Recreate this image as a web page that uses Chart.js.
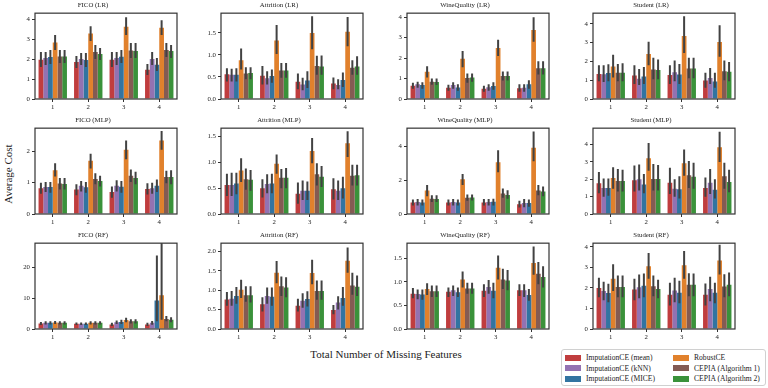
<!DOCTYPE html>
<html>
<head>
<meta charset="utf-8">
<script src="https://cdn.jsdelivr.net/npm/chart.js@4/dist/chart.umd.min.js"></script>
<style>
  body { margin: 0; background: #fff; }
  #fig { position: relative; width: 768px; height: 388px; overflow: hidden; font-family: "Liberation Serif", serif; color: #222; }
  #fig canvas { position: absolute; }
  .ylab { position: absolute; left: -27px; top: 168px; width: 70px; text-align: center; font-size: 11px; transform: rotate(-90deg); }
  .xlab { position: absolute; left: 266px; top: 348px; width: 240px; text-align: center; font-size: 11px; }
  #legend { position: absolute; left: 561px; top: 349px; width: 203px; height: 35px; border: 1px solid #d0d0d0; border-radius: 3px; font-size: 7.6px; }
  .item { position: absolute; height: 10px; line-height: 10px; white-space: nowrap; }
  .sw { display: inline-block; width: 16px; height: 6px; margin-right: 5px; vertical-align: -0.5px; }
</style>
</head>
<body>
<div id="fig">
  <div class="ylab">Average Cost</div>
  <div class="xlab">Total Number of Missing Features</div>
  <div id="legend"></div>
</div>
<script>
// categories and series
const missing = ['1', '2', '3', '4'];
const methods = ['ImputationCE (mean)', 'ImputationCE (kNN)', 'ImputationCE (MICE)', 'RobustCE', 'CEPIA (Algorithm 1)', 'CEPIA (Algorithm 2)'];
const colors = ['#c03d3e', '#9372b2', '#3274a1', '#e1812c', '#845b53', '#3a923a'];

// mean cost per method (rows) and number of missing features (cols), plus CI low/high
const ficoLR = [[1.97,1.85,1.97,1.47],[2.05,2.00,2.05,2.00],[2.10,1.95,2.12,1.72],[2.83,3.28,3.62,3.57],[2.13,2.35,2.43,2.45],[2.13,2.25,2.40,2.40]];
const ficoLR_lo = [[1.60,1.55,1.60,1.20],[1.70,1.70,1.70,1.70],[1.75,1.60,1.80,1.40],[2.45,2.90,3.20,3.20],[1.80,2.00,2.05,2.10],[1.80,1.95,2.05,2.05]];
const ficoLR_hi = [[2.35,2.15,2.35,1.75],[2.35,2.30,2.35,2.35],[2.45,2.30,2.45,2.05],[3.20,3.65,4.10,3.95],[2.45,2.70,2.80,2.80],[2.45,2.55,2.80,2.70]];

const attrLR = [[.56,.53,.39,.35],[.55,.47,.33,.32],[.55,.52,.42,.43],[.88,1.33,1.50,1.53],[.58,.65,.75,.71],[.59,.65,.74,.74]];
const attrLR_lo = [[.40,.33,.22,.22],[.40,.33,.20,.22],[.40,.37,.25,.27],[.67,1.02,1.13,1.20],[.45,.48,.55,.55],[.45,.48,.55,.55]];
const attrLR_hi = [[.70,.75,.58,.49],[.69,.63,.48,.45],[.70,.67,.63,.60],[1.15,1.68,1.88,1.86],[.72,.82,.98,.88],[.72,.82,.99,.97]];

const wineLR = [[.65,.55,.50,.52],[.72,.68,.58,.55],[.68,.56,.63,.72],[1.33,1.97,2.50,3.37],[.85,1.03,1.12,1.50],[.83,1.05,1.12,1.50]];
const wineLR_lo = [[.50,.40,.35,.35],[.55,.50,.40,.35],[.50,.40,.45,.50],[1.05,1.55,2.10,2.80],[.70,.80,.90,1.20],[.68,.85,.90,1.20]];
const wineLR_hi = [[.80,.70,.65,.72],[.85,.82,.72,.72],[.82,.72,.82,.92],[1.60,2.35,2.90,4.00],[1.00,1.25,1.35,1.85],[1.00,1.25,1.35,1.85]];

const studLR = [[1.33,1.25,1.28,.98],[1.32,1.08,1.43,1.12],[1.38,1.20,1.30,.93],[1.73,2.40,3.35,3.03],[1.40,1.57,1.63,1.48],[1.40,1.55,1.62,1.45]];
const studLR_lo = [[.95,.80,.80,.60],[.90,.75,.95,.80],[.95,.80,.80,.60],[1.15,1.80,2.45,2.25],[.95,1.05,1.10,1.00],[.95,1.05,1.10,.95]];
const studLR_hi = [[1.80,1.80,1.80,1.40],[1.80,1.60,2.05,1.65],[1.85,1.70,1.87,1.40],[2.35,3.05,4.40,3.93],[1.87,2.20,2.20,2.05],[1.90,2.10,2.20,1.97]];

const ficoMLP = [[.82,.78,.70,.80],[.86,.90,.90,.82],[.86,.85,.87,.90],[1.40,1.70,2.05,2.35],[.97,1.12,1.22,1.18],[.96,1.05,1.15,1.18]];
const ficoMLP_lo = [[.65,.60,.52,.62],[.70,.72,.72,.65],[.68,.68,.68,.70],[1.20,1.45,1.75,2.05],[.78,.95,1.02,.98],[.78,.88,.95,.95]];
const ficoMLP_hi = [[1.00,.95,.88,.98],[1.02,1.05,1.08,1.00],[1.02,1.02,1.05,1.10],[1.62,1.92,2.35,2.65],[1.15,1.30,1.42,1.38],[1.15,1.22,1.35,1.40]];

const attrMLP = [[.56,.50,.39,.48],[.56,.58,.45,.45],[.59,.59,.45,.50],[.84,.97,1.22,1.37],[.67,.70,.77,.74],[.66,.70,.72,.75]];
const attrMLP_lo = [[.35,.32,.20,.28],[.35,.40,.27,.27],[.38,.40,.27,.30],[.62,.78,.98,1.10],[.47,.50,.55,.55],[.45,.50,.52,.55]];
const attrMLP_hi = [[.78,.67,.61,.69],[.80,.77,.65,.65],[.80,.78,.63,.72],[1.08,1.15,1.47,1.60],[.88,.87,.98,.95],[.85,.89,.93,.95]];

const wineMLP = [[.67,.67,.67,.57],[.70,.70,.70,.65],[.68,.68,.72,.65],[1.38,2.05,3.05,3.90],[.90,.95,1.20,1.38],[.88,.97,1.12,1.33]];
const wineMLP_lo = [[.50,.50,.50,.38],[.50,.50,.50,.40],[.50,.50,.50,.42],[1.05,1.70,2.45,3.10],[.70,.78,.95,1.10],[.70,.80,.90,1.05]];
const wineMLP_hi = [[.85,.85,.88,.78],[.88,.88,.88,.88],[.85,.85,.90,.85],[1.70,2.35,3.75,4.85],[1.10,1.15,1.50,1.70],[1.10,1.15,1.40,1.62]];

const studMLP = [[1.78,1.95,1.80,1.50],[1.50,2.00,1.45,1.80],[1.50,1.70,1.43,1.40],[2.08,3.22,2.93,3.85],[1.90,2.02,2.23,2.18],[1.90,2.02,2.15,1.85]];
const studMLP_lo = [[1.20,1.30,1.15,1.00],[1.00,1.35,1.00,1.15],[1.05,1.20,.90,.90],[1.45,2.50,2.20,3.00],[1.30,1.35,1.50,1.45],[1.30,1.35,1.45,1.25]];
const studMLP_hi = [[2.42,2.80,2.67,2.10],[2.05,2.85,2.00,2.60],[2.05,2.30,2.17,2.00],[2.70,4.10,3.72,4.75],[2.60,2.88,3.05,2.95],[2.55,2.82,2.95,2.55]];

const ficoRF = [[1.8,1.7,1.5,1.5],[2.0,1.7,2.2,2.0],[2.0,1.7,2.3,9.3],[2.1,2.0,2.9,11.0],[2.0,2.0,2.5,3.3],[2.0,2.0,2.5,3.0]];
const ficoRF_lo = [[1.3,1.3,1.0,1.0],[1.5,1.3,1.6,1.4],[1.5,1.3,1.6,2.5],[1.6,1.5,2.2,3.0],[1.5,1.5,1.8,2.5],[1.5,1.5,1.8,2.2]];
const ficoRF_hi = [[2.3,2.1,2.0,2.0],[2.5,2.1,2.8,2.6],[2.5,2.1,3.0,24.0],[2.6,2.5,3.7,30.0],[2.5,2.5,3.2,4.2],[2.5,2.5,3.2,3.8]];

const attrRF = [[.76,.64,.60,.49],[.78,.85,.73,.68],[.85,.83,.77,.80],[1.01,1.45,1.44,1.76],[.87,1.10,.98,1.12],[.87,1.07,.98,1.09]];
const attrRF_lo = [[.60,.45,.45,.38],[.60,.65,.55,.50],[.65,.60,.58,.60],[.80,1.18,1.15,1.45],[.70,.85,.75,.88],[.68,.82,.75,.85]];
const attrRF_hi = [[.95,.82,.78,.62],[.98,1.07,.92,.84],[1.08,1.07,.97,1.08],[1.27,1.75,1.78,2.10],[1.10,1.35,1.25,1.45],[1.10,1.33,1.25,1.38]];

const wineRF = [[.75,.79,.81,.82],[.74,.82,.89,.82],[.73,.78,.81,.72],[.85,1.05,1.30,1.40],[.80,.86,1.05,1.17],[.80,.86,1.03,1.10]];
const wineRF_lo = [[.65,.68,.68,.70],[.63,.70,.75,.68],[.62,.68,.65,.60],[.72,.88,1.05,1.15],[.68,.75,.85,.95],[.68,.75,.82,.88]];
const wineRF_hi = [[.87,.88,.95,.95],[.84,.92,1.04,.95],[.84,.88,.98,.85],[.97,1.22,1.56,1.75],[.92,.98,1.28,1.42],[.92,.98,1.25,1.33]];

const studRF = [[2.00,1.92,1.67,1.67],[1.85,2.03,1.87,1.95],[1.75,2.10,1.77,1.77],[2.45,3.05,3.10,3.33],[2.05,2.08,2.15,2.07],[2.05,1.95,2.15,2.15]];
const studRF_lo = [[1.55,1.40,1.15,1.15],[1.40,1.50,1.30,1.35],[1.30,1.55,1.25,1.25],[1.85,2.45,2.45,2.65],[1.55,1.60,1.60,1.55],[1.55,1.50,1.60,1.60]];
const studRF_hi = [[2.50,2.45,2.25,2.22],[2.30,2.65,2.50,2.55],[2.20,2.70,2.35,2.25],[3.15,3.70,3.80,4.10],[2.60,2.60,2.72,2.67],[2.60,2.40,2.70,2.75]];

// panel titles, y ranges and tick labels (row by row)
const titles = ['FICO (LR)', 'Attrition (LR)', 'WineQuality (LR)', 'Student (LR)',
                'FICO (MLP)', 'Attrition (MLP)', 'WineQuality (MLP)', 'Student (MLP)',
                'FICO (RF)', 'Attrition (RF)', 'WineQuality (RF)', 'Student (RF)'];
const yMax = [4.3, 1.95, 4.2, 4.57, 2.74, 1.66, 5.05, 4.95, 28, 2.21, 1.82, 4.18];
const yTicks = [[0,1,2,3,4], [0,0.5,1,1.5], [0,1,2,3,4], [0,1,2,3,4],
                [0,1,2], [0,0.5,1,1.5], [0,2,4], [0,1,2,3,4],
                [0,10,20], [0,0.5,1,1.5,2], [0,0.5,1,1.5], [0,1,2,3,4]];
const decimals = [false, true, false, false, false, true, false, false, false, true, true, false];
const means = [ficoLR, attrLR, wineLR, studLR, ficoMLP, attrMLP, wineMLP, studMLP, ficoRF, attrRF, wineRF, studRF];
const lows = [ficoLR_lo, attrLR_lo, wineLR_lo, studLR_lo, ficoMLP_lo, attrMLP_lo, wineMLP_lo, studMLP_lo, ficoRF_lo, attrRF_lo, wineRF_lo, studRF_lo];
const highs = [ficoLR_hi, attrLR_hi, wineLR_hi, studLR_hi, ficoMLP_hi, attrMLP_hi, wineMLP_hi, studMLP_hi, ficoRF_hi, attrRF_hi, wineRF_hi, studRF_hi];

// plot box positions
const colLeft = [35, 221, 407, 593];
const rowTop = [13, 128, 243];
const plotW = 142, plotH = 86;
const padL = 26, padT = 14, padB = 16, padR = 2;

Chart.defaults.font.family = '"Liberation Serif", serif';
Chart.defaults.color = '#222';

// draws the CI line for each bar, using the y scale
const errorBars = {
  id: 'errorBars',
  afterDatasetsDraw(chart) {
    const { ctx, chartArea, scales } = chart;
    ctx.save();
    ctx.beginPath();
    ctx.rect(chartArea.left, chartArea.top, chartArea.width, chartArea.height);
    ctx.clip();
    ctx.strokeStyle = '#424242';
    ctx.lineWidth = 2;
    chart.data.datasets.forEach((ds, di) => {
      chart.getDatasetMeta(di).data.forEach((bar, j) => {
        ctx.beginPath();
        ctx.moveTo(bar.x, scales.y.getPixelForValue(ds.lo[j]));
        ctx.lineTo(bar.x, scales.y.getPixelForValue(ds.hi[j]));
        ctx.stroke();
      });
    });
    ctx.restore();
  }
};

// box around the plot area
const frame = {
  id: 'frame',
  afterDraw(chart) {
    const { ctx, chartArea: a } = chart;
    ctx.save();
    ctx.strokeStyle = '#333';
    ctx.lineWidth = 1.2;
    ctx.strokeRect(a.left, a.top, a.right - a.left, a.bottom - a.top);
    ctx.restore();
  }
};

const fig = document.getElementById('fig');

titles.forEach((title, i) => {
  const col = i % 4, row = Math.floor(i / 4);
  const canvas = document.createElement('canvas');
  canvas.width = plotW + padL + padR;
  canvas.height = plotH + padT + padB;
  canvas.style.left = (colLeft[col] - padL) + 'px';
  canvas.style.top = (rowTop[row] - padT) + 'px';
  fig.appendChild(canvas);

  new Chart(canvas, {
    type: 'bar',
    data: {
      labels: missing,
      datasets: methods.map((m, k) => ({
        label: m,
        data: means[i][k],
        lo: lows[i][k],
        hi: highs[i][k],
        backgroundColor: colors[k],
        borderWidth: 0,
        categoryPercentage: 0.8,
        barPercentage: 1.0
      }))
    },
    options: {
      responsive: false,
      devicePixelRatio: 1,
      animation: false,
      layout: { padding: { left: 0, right: padR, top: 0, bottom: 0 } },
      plugins: {
        legend: { display: false },
        tooltip: { enabled: false },
        title: {
          display: true,
          text: title,
          font: { size: 6.8, weight: 'normal' },
          color: '#222',
          padding: { top: 2, bottom: 4 }
        }
      },
      scales: {
        x: {
          offset: true,
          grid: { display: true, drawOnChartArea: false, offset: false, tickLength: 3, color: '#333' },
          border: { display: false },
          ticks: { font: { size: 6.8 }, padding: 1, color: '#222', maxRotation: 0 },
          afterFit: s => { s.height = padB; }
        },
        y: {
          min: 0,
          max: yMax[i],
          grid: { display: true, drawOnChartArea: false, tickLength: 3, color: '#333' },
          border: { display: false },
          ticks: {
            font: { size: 6.8 }, padding: 2, color: '#222',
            callback: v => decimals[i] ? v.toFixed(1) : String(v)
          },
          afterBuildTicks: s => { s.ticks = yTicks[i].map(v => ({ value: v })); },
          afterFit: s => { s.width = padL; }
        }
      }
    },
    plugins: [errorBars, frame]
  });
});

// figure legend: two columns, three rows
const legend = document.getElementById('legend');
methods.forEach((m, k) => {
  const item = document.createElement('div');
  item.className = 'item';
  item.style.left = (k < 3 ? 3 : 111) + 'px';
  item.style.top = (3 + (k % 3) * 10.5) + 'px';
  item.innerHTML = '<span class="sw" style="background:' + colors[k] + '"></span>' + m;
  legend.appendChild(item);
});
</script>
</body>
</html>
